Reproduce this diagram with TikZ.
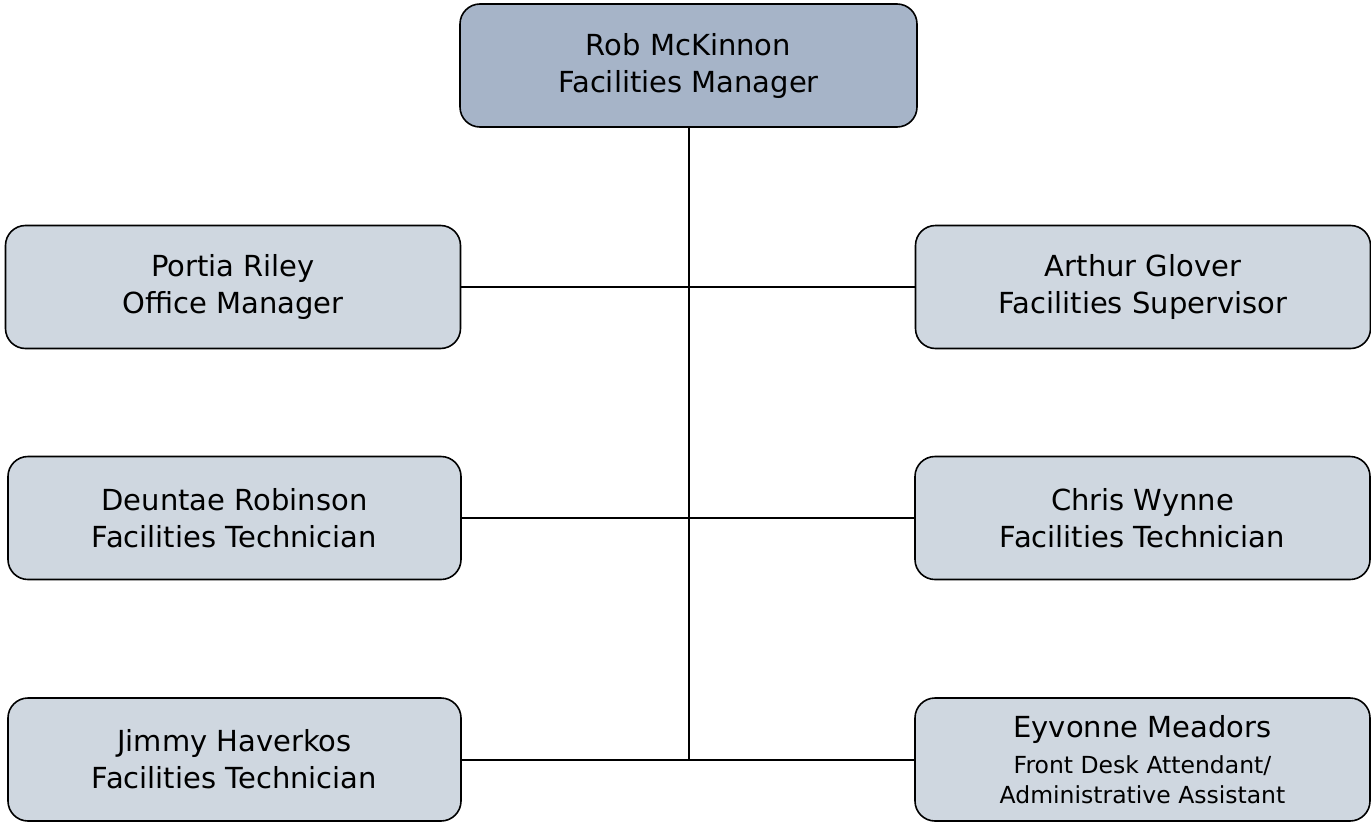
\documentclass[tikz,border=0pt]{standalone}
\usepackage{fontspec}
\setmainfont{DejaVu Sans}
\definecolor{topfill}{HTML}{A6B4C8}
\definecolor{boxfill}{HTML}{CFD7E0}
\begin{document}
\begin{tikzpicture}[x=1pt,y=-1pt,
  box/.style={draw=black,line width=1.6pt,rounded corners=20pt,fill=boxfill,
    minimum width=455pt,minimum height=123pt,align=center,inner sep=0pt,
    font=\fontsize{29}{37}\selectfont},
  conn/.style={draw=black,line width=1.8pt}]
\newcommand{\smalltxt}{\fontsize{23.5}{30}\selectfont}
\useasboundingbox (0,0) rectangle (1371,822);
\node[box,fill=topfill,minimum width=457pt] (top) at (688.5,65.5) {Rob McKinnon\\Facilities Manager};
\node[box] (portia) at (233,287) {Portia Riley\\Office Manager};
\node[box] (arthur) at (1143,287) {Arthur Glover\\Facilities Supervisor};
\node[box,minimum width=453pt] (deuntae) at (234.5,518) {Deuntae Robinson\\Facilities Technician};
\node[box] (chris) at (1142.5,518) {Chris Wynne\\Facilities Technician};
\node[box,minimum width=453pt] (jimmy) at (234.5,759.5) {Jimmy Haverkos\\Facilities Technician};
\node[box] (eyv) at (1142.5,759.5) {Eyvonne Meadors\\[-1pt]{\smalltxt Front Desk Attendant/}\\[-7pt]{\smalltxt Administrative Assistant}};
\coordinate (jb) at (689,760);
\draw[conn] (top.south -| jb) -- (jb);
\draw[conn] (portia.east) -- (arthur.west);
\draw[conn] (deuntae.east) -- (chris.west);
\draw[conn] (jimmy.east |- jb) -- (eyv.west |- jb);
\end{tikzpicture}
\end{document}
